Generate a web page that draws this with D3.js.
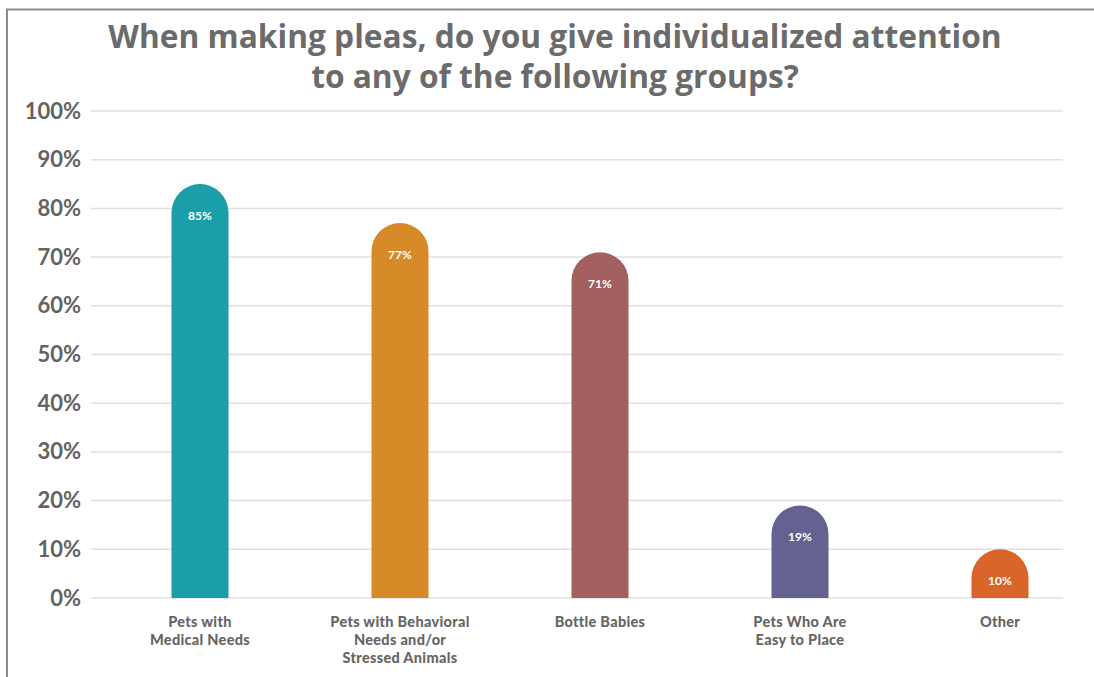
<!DOCTYPE html>
<html>
<head>
<meta charset="utf-8">
<script src="https://cdn.jsdelivr.net/npm/d3@7"></script>
<style>
  body { margin: 0; background: #fff; }
  text { font-family: "Lato", "Open Sans", sans-serif; }
</style>
</head>
<body>
<div id="chart"></div>
<script>
const categories = [
  ["Pets with", "Medical Needs"],
  ["Pets with Behavioral", "Needs and/or", "Stressed Animals"],
  ["Bottle Babies"],
  ["Pets Who Are", "Easy to Place"],
  ["Other"]
];
const values = [85, 77, 71, 19, 10];
const colors = ["#1a9ea8", "#d68b28", "#a2605e", "#646290", "#d9652a"];
const yTicks = [0, 10, 20, 30, 40, 50, 60, 70, 80, 90, 100];
const titleLines = ["When making pleas, do you give individualized attention", "to any of the following groups?"];

const W = 1094, H = 677;
const svg = d3.select("#chart").append("svg")
  .attr("width", W).attr("height", H);

// frame
svg.append("path")
  .attr("d", `M7,${H} V9.5 H${W}`)
  .attr("fill", "none")
  .attr("stroke", "#8a8a8a")
  .attr("stroke-width", 2);

// title
svg.append("text")
  .attr("x", 555).attr("y", 48)
  .attr("text-anchor", "middle")
  .attr("fill", "#6b6b6b")
  .style("font-family", "'Open Sans', sans-serif")
  .style("font-weight", 700)
  .style("font-size", "31.7px")
  .selectAll("tspan")
  .data(titleLines)
  .enter().append("tspan")
  .attr("x", 555)
  .attr("dy", (d, i) => i === 0 ? 0 : 40)
  .text(d => d);

const y = d3.scaleLinear().domain([0, 100]).range([598, 111]);
const x = d3.scaleBand()
  .domain(d3.range(values.length))
  .range([100, 1100])
  .paddingInner(0.715)
  .paddingOuter(0.3575);

// grid
svg.append("g")
  .selectAll("line")
  .data(yTicks)
  .enter().append("line")
  .attr("x1", 91).attr("x2", 1063)
  .attr("y1", d => y(d)).attr("y2", d => y(d))
  .attr("stroke", "#e0e0e0")
  .attr("stroke-width", 1.5);

// y axis labels
const yAxis = svg.append("g")
  .attr("transform", "translate(91,0)")
  .call(d3.axisLeft(y).tickValues(yTicks).tickFormat(d => d + "%").tickSize(0).tickPadding(10));
yAxis.select(".domain").remove();
yAxis.selectAll("text")
  .attr("fill", "#636363")
  .style("font-family", "'Lato', sans-serif")
  .style("font-weight", 700)
  .style("font-size", "22px");

// bars with rounded tops
const bw = x.bandwidth();
const r = bw / 2;
const bars = svg.append("g").selectAll("g")
  .data(values)
  .enter().append("g");

bars.append("path")
  .attr("fill", (d, i) => colors[i])
  .attr("d", (d, i) => {
    const x0 = x(i), x1 = x0 + bw, top = y(d), base = y(0);
    return `M${x0},${base} V${top + r} A${r},${r} 0 0 1 ${x1},${top + r} V${base} Z`;
  });

bars.append("text")
  .attr("x", (d, i) => x(i) + r)
  .attr("y", d => y(d) + 36)
  .attr("text-anchor", "middle")
  .attr("fill", "#fff")
  .style("font-weight", 700)
  .style("font-size", "12px")
  .text(d => d + "%");

// category labels
const cats = svg.append("g").selectAll("text")
  .data(categories)
  .enter().append("text")
  .attr("x", (d, i) => x(i) + r)
  .attr("y", 627)
  .attr("text-anchor", "middle")
  .attr("fill", "#666")
  .style("font-weight", 900)
  .style("font-size", "14.5px")
  .style("letter-spacing", "0.3px");
cats.selectAll("tspan")
  .data(d => d)
  .enter().append("tspan")
  .attr("x", function () { return d3.select(this.parentNode).attr("x"); })
  .attr("dy", (d, i) => i === 0 ? 0 : 18)
  .text(d => d);
</script>
</body>
</html>
